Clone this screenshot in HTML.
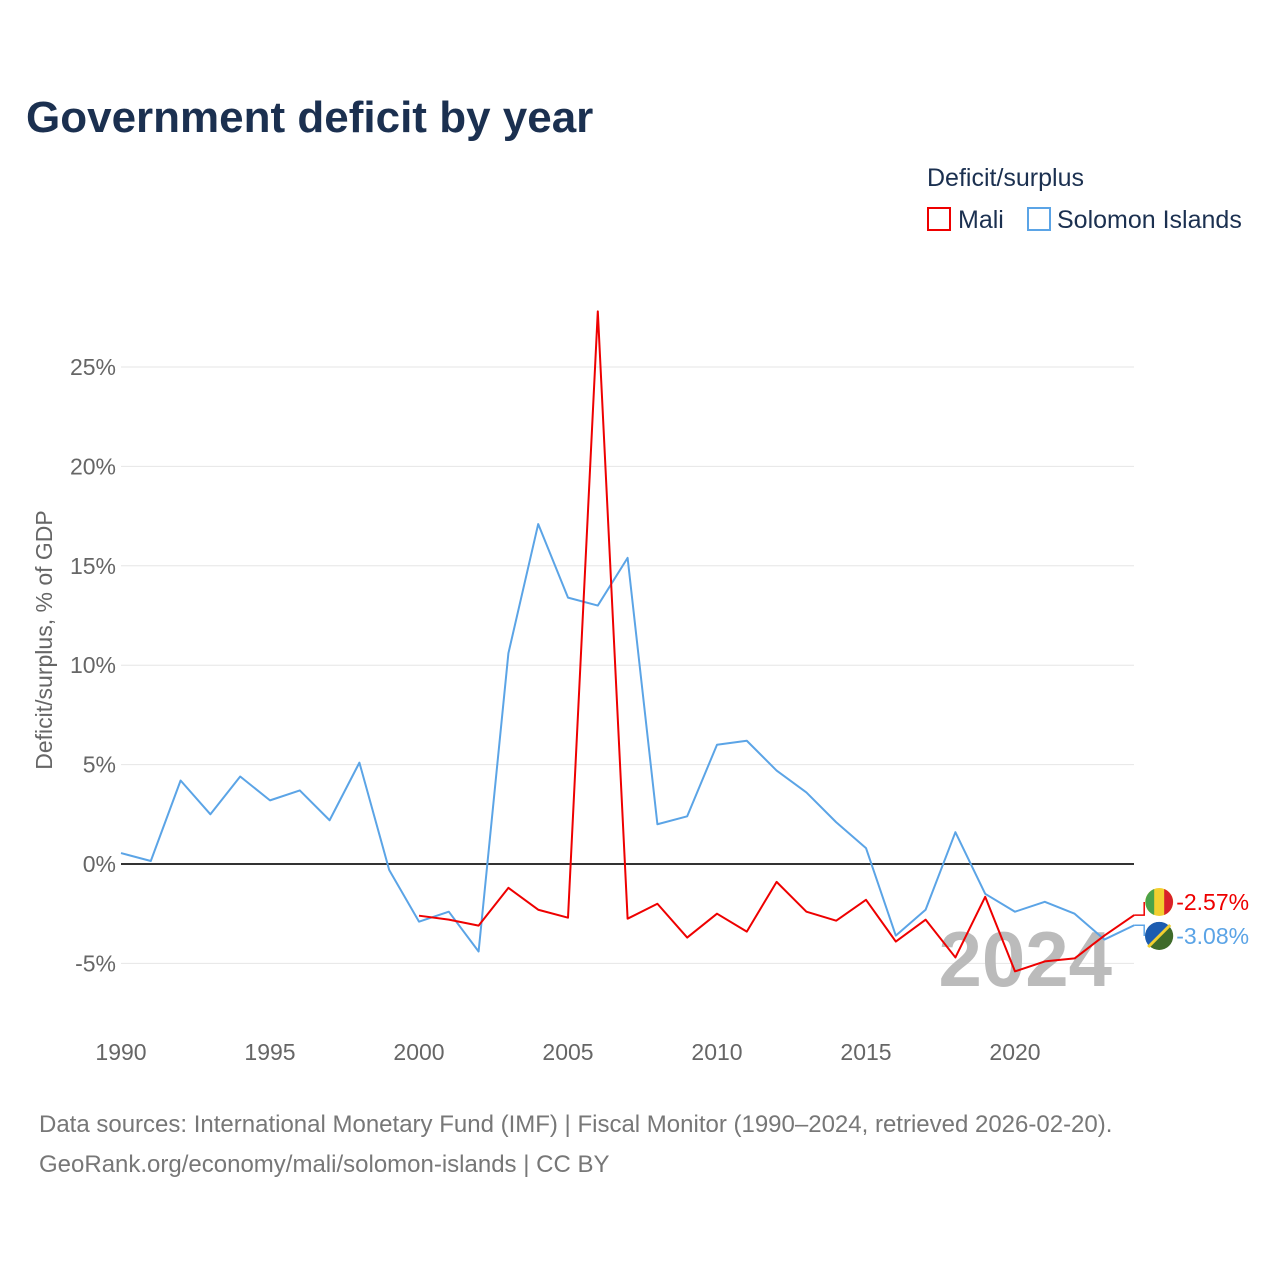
<!DOCTYPE html>
<html><head><meta charset="utf-8"><style>
html,body{margin:0;padding:0;background:#fff;width:1280px;height:1280px;overflow:hidden;font-family:"Liberation Sans",sans-serif}
</style></head><body>
<svg id="chart" width="1280" height="1280" xmlns="http://www.w3.org/2000/svg" font-family="Liberation Sans, sans-serif">
<text x="26" y="132" font-size="44" font-weight="bold" fill="#1b3050">Government deficit by year</text>
<text x="927" y="186" font-size="25" fill="#1b3050">Deficit/surplus</text>
<g><rect x="928" y="208" width="22" height="22" fill="none" stroke="#ee0000" stroke-width="2"/><text x="958" y="228" font-size="25" fill="#1b3050">Mali</text></g>
<g><rect x="1028" y="208" width="22" height="22" fill="none" stroke="#5ba4e6" stroke-width="2"/><text x="1057" y="228" font-size="25" fill="#1b3050">Solomon Islands</text></g>
<text transform="translate(52,640) rotate(-90)" text-anchor="middle" font-size="23" fill="#666">Deficit/surplus, % of GDP</text>
<g id="grid"></g><g id="ticks"></g>
<text x="1112" y="986" text-anchor="end" font-size="78" font-weight="bold" fill="#bbb">2024</text>
<g id="series"></g>
<text x="39" y="1132" font-size="24" fill="#777">Data sources: International Monetary Fund (IMF) | Fiscal Monitor (1990–2024, retrieved 2026-02-20).</text>
<text x="39" y="1172" font-size="24" fill="#777">GeoRank.org/economy/mali/solomon-islands | CC BY</text>
</svg>
<script>
const years=[];for(let y=1990;y<=2024;y++)years.push(y);
const solomon=[0.55,0.15,4.2,2.5,4.4,3.2,3.7,2.2,5.1,-0.3,-2.9,-2.4,-4.4,10.6,17.1,13.4,13.0,15.4,2.0,2.4,6.0,6.2,4.7,3.6,2.1,0.8,-3.6,-2.3,1.6,-1.5,-2.4,-1.9,-2.5,-3.8,-3.08];
const maliYears=[];for(let y=2000;y<=2024;y++)maliYears.push(y);
const mali=[-2.6,-2.8,-3.1,-1.2,-2.3,-2.7,27.8,-2.75,-2.0,-3.7,-2.5,-3.4,-0.9,-2.4,-2.85,-1.8,-3.9,-2.8,-4.7,-1.65,-5.4,-4.9,-4.75,-3.6,-2.57];
const yTicks=[-5,0,5,10,15,20,25];
const xTicks=[1990,1995,2000,2005,2010,2015,2020];
const X=y=>121+(y-1990)*29.8;
const Y=v=>864-v*19.88;
const NS="http://www.w3.org/2000/svg";
function mk(t,a,p){const e=document.createElementNS(NS,t);for(const k in a)e.setAttribute(k,a[k]);p.appendChild(e);return e;}
const grid=document.getElementById('grid'),ticks=document.getElementById('ticks'),ser=document.getElementById('series');
yTicks.forEach(v=>{
 const l=mk('line',{x1:121,x2:1134,y1:Y(v),y2:Y(v),stroke:v===0?'#333':'#e6e6e6','stroke-width':v===0?2:1},grid);
 
 
 const t=mk('text',{x:116,y:Y(v)+8,'text-anchor':'end','font-size':23,fill:'#666'},ticks);
 t.textContent=v+'%';
 
 
});
xTicks.forEach(v=>{
 const t=mk('text',{x:X(v),y:1060,'text-anchor':'middle','font-size':23,fill:'#666'},ticks);
 t.textContent=v;
 
 
});
function line(xs,vs,c,name){
 const p=mk('polyline',{points:xs.map((y,i)=>X(y)+','+Y(vs[i])).join(' '),fill:'none',stroke:c,'stroke-width':2,'stroke-linejoin':'round'},ser);
 
 
}
line(years,solomon,'#5ba4e6','solomon-islands-line');
line(maliYears,mali,'#ee0000','mali-line');
function endLabel(v,c,ly,name,txt,flagCols){
 const x=X(2024),y=Y(v);
 mk('polyline',{points:`${x},${y} ${x+10},${y} ${x+10},${ly}`,fill:'none',stroke:c,'stroke-width':1.5},ser);
 const g=mk('g',{},ser);
 
 
 mk('circle',{cx:x+25,cy:ly,r:14,fill:flagCols[0]},g);
 mk('path',{d:`M${x+25-5},${ly-13} A14 14 0 0 1 ${x+25+5},${ly-13} L${x+25+5},${ly+13} A14 14 0 0 1 ${x+25-5},${ly+13}Z`,fill:flagCols[1]},g);
 const t=mk('text',{x:x+42,y:ly+8,'font-size':23,fill:c},g);t.textContent=txt;
}
// Mali flag approximation: green/yellow/red
(function(){const x=X(2024),ly=902;
 mk('polyline',{points:`${x},${Y(-2.57)} ${x+10},${Y(-2.57)} ${x+10},${ly}`,fill:'none',stroke:'#ee0000','stroke-width':1.5},ser);
 const g=mk('g',{},ser);
 
 
 mk('circle',{cx:x+25,cy:ly,r:14,fill:'#f2cf30'},g);
 mk('path',{d:`M${x+20},${ly-13} A14 14 0 0 0 ${x+20},${ly+13}Z`,fill:'#4aa24a'},g);
 mk('path',{d:`M${x+30},${ly-13} A14 14 0 0 1 ${x+30},${ly+13}Z`,fill:'#d8202a'},g);
 const t=mk('text',{x:x+42,y:ly+8,'font-size':23,fill:'#ee0000'},g);t.textContent='-2.57%';
 const ly2=936;
 mk('polyline',{points:`${x},${Y(-3.08)} ${x+10},${Y(-3.08)} ${x+10},${ly2}`,fill:'none',stroke:'#5ba4e6','stroke-width':1.5},ser);
 const g2=mk('g',{},ser);
 
 
 mk('circle',{cx:x+25,cy:ly2,r:14,fill:'#3f6b2a'},g2);
 mk('path',{d:`M${x+15},${ly2+10} A14 14 0 0 1 ${x+35},${ly2-10}Z`,fill:'#1c5cb0'},g2);
 mk('line',{x1:x+14,y1:ly2+11,x2:x+36,y2:ly2-11,stroke:'#f2cf30','stroke-width':3},g2);
 const t2=mk('text',{x:x+42,y:ly2+8,'font-size':23,fill:'#5ba4e6'},g2);t2.textContent='-3.08%';
})();
</script>
</body></html>
